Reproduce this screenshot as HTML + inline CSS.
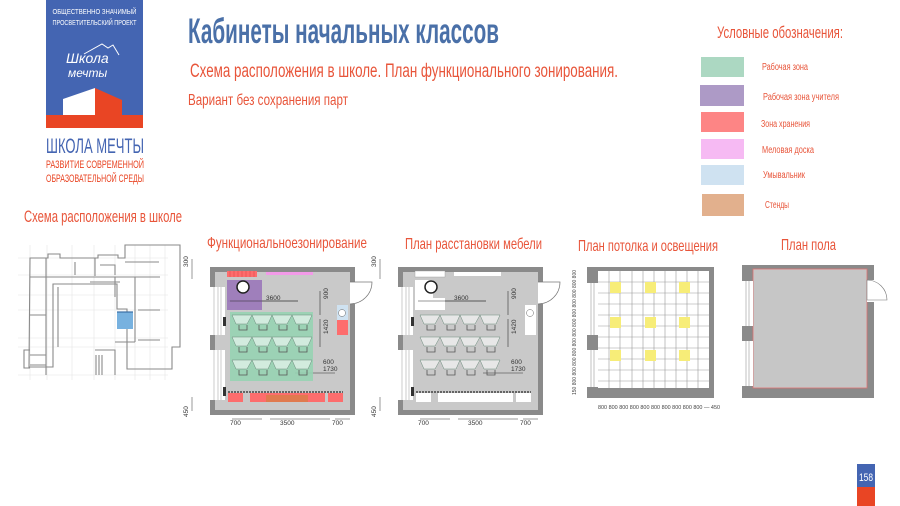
<!DOCTYPE html>
<html><head><meta charset="utf-8"><style>
html,body{margin:0;padding:0;background:#fff}
svg{display:block}
text{font-family:"Liberation Sans Narrow","Liberation Sans",sans-serif}
</style></head><body>
<svg width="900" height="506" viewBox="0 0 900 506" xmlns="http://www.w3.org/2000/svg">
<defs>
<g id="deskrow">
  <path d="M0 0h20l-5 9h-11z M20 0h20l-4 9h-12z M40 0h20l-5 9h-11z M60 0h20l-4 9h-12z" fill="#fff" fill-opacity="0.55" stroke="#6a8a7a" stroke-width="0.5"/>
  <path d="M7 10v5h8v-5 M27 10v5h8v-5 M47 10v5h8v-5 M67 10v5h8v-5" fill="none" stroke="#555" stroke-width="0.8"/>
</g>
<g id="room">
  <rect x="0" y="0" width="145" height="148" fill="#8a8a8a"/>
  <rect x="5" y="5" width="135" height="138" fill="#c9c9c9"/>
  <rect x="0" y="20" width="15" height="48" fill="#fff"/>
  <rect x="0" y="83" width="15" height="50" fill="#fff"/>
  <path d="M4 20v48 M8 20v48 M11 20v48 M4 83v50 M8 83v50 M11 83v50" stroke="#aaa" stroke-width="0.6"/>
  <rect x="140" y="15" width="5" height="22" fill="#fff"/>
  <path d="M140 15 h22 a22 22 0 0 1 -22 22" fill="#fff" stroke="#777" stroke-width="0.7"/>
  <rect x="13" y="50" width="3" height="9" fill="#333"/>
  <rect x="13" y="120" width="3" height="9" fill="#333"/>
  <path d="M18 34h70 M110 24v24 M110 52v28 M130 54v10 M85 106h40 M22 152h30 M60 152h60 M125 152h15" stroke="#333" stroke-width="0.6" fill="none"/>
  <path d="M18 125h115" stroke="#444" stroke-width="1.5" stroke-dasharray="2 1"/>
  <g fill="#333" font-size="6.5">
    <text x="113" y="97">600</text>
    <text x="113" y="104">1730</text>
  </g>
  <text x="0" y="0" font-size="6.5" fill="#333" transform="translate(118 32) rotate(-90)">900</text>
  <text x="0" y="0" font-size="6.5" fill="#333" transform="translate(118 67) rotate(-90)">1420</text>
  <text x="0" y="0" font-size="6.5" fill="#333" transform="translate(-22 0) rotate(-90)">300</text>
  <text x="0" y="0" font-size="6.5" fill="#333" transform="translate(-22 150) rotate(-90)">450</text>
  <g font-size="6.5" fill="#333"><text x="20" y="158">700</text><text x="70" y="158">3500</text><text x="122" y="158">700</text></g>
  <path d="M-18 -8v20 M-18 130v14" stroke="#333" stroke-width="0.5"/>
</g>
</defs>

<!-- Logo -->
<rect x="46" y="0" width="97" height="128" fill="#4465b2"/>
<rect x="46" y="115" width="97" height="13" fill="#e94524"/>
<path d="M63 115v-16l32-11v27z" fill="#fff"/>
<path d="M95 115v-27l27 12v15z" fill="#e94524"/>
<text x="94.5" y="14" font-size="7" fill="#fff" text-anchor="middle" textLength="84" lengthAdjust="spacingAndGlyphs">ОБЩЕСТВЕННО ЗНАЧИМЫЙ</text>
<text x="94.5" y="25" font-size="7" fill="#fff" text-anchor="middle" textLength="84" lengthAdjust="spacingAndGlyphs">ПРОСВЕТИТЕЛЬСКИЙ ПРОЕКТ</text>
<text x="66" y="63" font-size="14" fill="#fff" font-style="italic" font-family="Liberation Serif,serif">Школа</text>
<text x="68" y="77" font-size="12" fill="#fff" font-style="italic" font-family="Liberation Serif,serif">мечты</text>
<path d="M84 54l18-10 6 4 5-3 6 10" fill="none" stroke="#fff" stroke-width="1"/>
<text x="46" y="153" font-size="21" fill="#4465b2" textLength="98" lengthAdjust="spacingAndGlyphs">ШКОЛА МЕЧТЫ</text>
<text x="46" y="168" font-size="11" fill="#e94524" textLength="98" lengthAdjust="spacingAndGlyphs">РАЗВИТИЕ СОВРЕМЕННОЙ</text>
<text x="46" y="182" font-size="11" fill="#e94524" textLength="98" lengthAdjust="spacingAndGlyphs">ОБРАЗОВАТЕЛЬНОЙ СРЕДЫ</text>

<!-- Titles -->
<text x="188" y="43" font-size="35" font-weight="bold" fill="#4a70a8" textLength="311" lengthAdjust="spacingAndGlyphs">Кабинеты начальных классов</text>
<text x="190" y="77" font-size="19" fill="#e8553a" textLength="428" lengthAdjust="spacingAndGlyphs">Схема расположения в школе. План функционального зонирования.</text>
<text x="188" y="105" font-size="16" fill="#e8553a" textLength="160" lengthAdjust="spacingAndGlyphs">Вариант без сохранения парт</text>
<text x="24" y="222" font-size="17" fill="#e8553a" textLength="158" lengthAdjust="spacingAndGlyphs">Схема расположения в школе</text>

<!-- Legend -->
<text x="717" y="38" font-size="17" fill="#e8553a" textLength="126" lengthAdjust="spacingAndGlyphs">Условные обозначения:</text>
<rect x="701" y="57" width="43" height="20" fill="#acd8c2"/>
<rect x="700" y="85" width="44" height="21" fill="#ad9ac6"/>
<rect x="701" y="112" width="43" height="20" fill="#fd8585"/>
<rect x="701" y="139" width="43" height="20" fill="#f6baf3"/>
<rect x="701" y="165" width="43" height="20" fill="#cfe2f1"/>
<rect x="702" y="194" width="42" height="22" fill="#e2b08d"/>
<g font-size="10" fill="#e8553a">
<text x="762" y="70" textLength="46" lengthAdjust="spacingAndGlyphs">Рабочая зона</text>
<text x="763" y="100" textLength="76" lengthAdjust="spacingAndGlyphs">Рабочая зона учителя</text>
<text x="761" y="127" textLength="49" lengthAdjust="spacingAndGlyphs">Зона хранения</text>
<text x="762" y="153" textLength="52" lengthAdjust="spacingAndGlyphs">Меловая доска</text>
<text x="763" y="178" textLength="42" lengthAdjust="spacingAndGlyphs">Умывальник</text>
<text x="765" y="208" textLength="24" lengthAdjust="spacingAndGlyphs">Стенды</text>
</g>

<!-- School plan -->
<g stroke="#e4e4e4" stroke-width="0.6">
<path d="M18 258h150 M18 275h150 M18 295h150 M18 310h150 M18 338h150 M18 347h150 M18 375h150 M30 245v135 M47 245v135 M72 245v135 M94 245v135 M115 245v135 M135 245v135 M150 245v135 M165 245v135"/>
</g>
<g fill="none" stroke="#8a8a8a" stroke-width="1.1">
<path d="M30 258h18v-4h12v4h38v-3h20v3h7v-13h55v102h-8v22h-45v-60h-10v-25h-64v83h-24z"/>
<path d="M46 258v117 M30 277h130 M58 287v60 M75 262v13 M95 258v18 M100 265h15v10 M125 262h34 M90 282h30 M115 277v20 M135 277v65 M138 310h22 M138 340h22 M115 342h20 M30 315h16 M30 355h16 M30 350h-6v18h6 M30 365h16 M95 350h20v25 M96 355v20 M99 355v20 M102 355v20"/>
</g>
<rect x="117" y="312" width="16" height="17" fill="#77b1df"/>
<path d="M117 312h16" stroke="#3b6fa5" stroke-width="1.2"/>

<!-- Section titles -->
<g font-size="16" fill="#e8553a">
<text x="207" y="248" textLength="160" lengthAdjust="spacingAndGlyphs">Функциональноезонирование</text>
<text x="405" y="249" textLength="137" lengthAdjust="spacingAndGlyphs">План расстановки мебели</text>
<text x="578" y="251" textLength="140" lengthAdjust="spacingAndGlyphs">План потолка и освещения</text>
<text x="781" y="250" textLength="55" lengthAdjust="spacingAndGlyphs">План пола</text>
</g>

<!-- Plan 1 -->
<g transform="translate(210 267)">
  <use href="#room"/>
  <rect x="17" y="4" width="30" height="6" fill="#fd6d6d"/>
  <path d="M20 4v6 M24 4v6 M28 4v6 M32 4v6 M36 4v6 M40 4v6 M44 4v6" stroke="#d44" stroke-width="0.5"/>
  <rect x="56" y="5" width="47" height="3" fill="#f29ae8"/>
  <path d="M17 13h35v30h-35z" fill="#9872b8" fill-opacity="0.85"/>
  <path d="M20 34h68" stroke="#333" stroke-width="0.6"/>
  <circle cx="33" cy="20" r="6" fill="#fff" stroke="#222" stroke-width="1.5"/>
  <text x="56" y="33" font-size="6.5" fill="#333">3600</text>
  <rect x="20" y="45" width="83" height="69" fill="#97d3b3" fill-opacity="0.9"/>
  <use href="#deskrow" x="22" y="48"/>
  <use href="#deskrow" x="22" y="70"/>
  <use href="#deskrow" x="22" y="93"/>
  <rect x="127" y="38" width="11" height="15" fill="#cfe2f1"/>
  <circle cx="132" cy="46" r="3.5" fill="#fff" stroke="#666" stroke-width="0.5"/>
  <rect x="127" y="53" width="11" height="15" fill="#fd6d6d"/>
  <rect x="18" y="126" width="15" height="9" fill="#fd6d6d"/>
  <rect x="40" y="126" width="75" height="9" fill="#fd6d6d"/>
  <rect x="56" y="128" width="42" height="7" fill="#e07a4f"/>
  <rect x="118" y="126" width="15" height="9" fill="#fd6d6d"/>
</g>

<!-- Plan 2 -->
<g transform="translate(398 267)">
  <use href="#room"/>
  <rect x="17" y="4" width="30" height="6" fill="#fff" stroke="#999" stroke-width="0.4"/>
  <rect x="56" y="5" width="47" height="4" fill="#fff"/>
  <path d="M17 13h18v18h12v12h-30z" fill="#fff"/>
  <path d="M20 34h68" stroke="#333" stroke-width="0.6"/>
  <circle cx="33" cy="20" r="6" fill="#fff" stroke="#222" stroke-width="1.5"/>
  <text x="56" y="33" font-size="6.5" fill="#333">3600</text>
  <use href="#deskrow" x="22" y="48"/>
  <use href="#deskrow" x="22" y="70"/>
  <use href="#deskrow" x="22" y="93"/>
  <rect x="127" y="38" width="11" height="30" fill="#fff"/>
  <circle cx="132" cy="46" r="3.5" fill="#fff" stroke="#666" stroke-width="0.5"/>
  <rect x="18" y="126" width="15" height="9" fill="#fff"/>
  <rect x="40" y="126" width="75" height="9" fill="#fff"/>
  <rect x="118" y="126" width="15" height="9" fill="#fff"/>
</g>

<!-- Plan 3 ceiling -->
<g>
  <rect x="587" y="267" width="127" height="131" fill="#8a8a8a"/>
  <rect x="598" y="271" width="111" height="117" fill="#fff"/>
  <rect x="587" y="283" width="11" height="52" fill="#fff"/>
  <rect x="587" y="350" width="11" height="37" fill="#fff"/>
  <g stroke="#999" stroke-width="0.6">
    <path d="M591 283v52 M594 283v52 M591 350v37 M594 350v37"/>
    <path d="M609 271v117 M620 271v117 M632 271v117 M643 271v117 M654 271v117 M665 271v117 M676 271v117 M687 271v117 M698 271v117"/>
    <path d="M598 282h111 M598 293h111 M598 304h111 M598 315h111 M598 326h111 M598 337h111 M598 348h111 M598 359h111 M598 370h111 M598 381h111"/>
  </g>
  <g fill="#f7ed78">
    <rect x="610" y="282" width="11" height="11"/><rect x="645" y="282" width="11" height="11"/><rect x="679" y="282" width="11" height="11"/>
    <rect x="610" y="317" width="11" height="11"/><rect x="645" y="317" width="11" height="11"/><rect x="679" y="317" width="11" height="11"/>
    <rect x="610" y="350" width="11" height="11"/><rect x="645" y="350" width="11" height="11"/><rect x="679" y="350" width="11" height="11"/>
  </g>
  <text x="0" y="0" font-size="5" fill="#444" transform="translate(576 395) rotate(-90)" textLength="125" lengthAdjust="spacingAndGlyphs">150 800 800 800 800 800 800 800 800 800 800 800 800</text>
  <text x="598" y="409" font-size="5" fill="#444" textLength="122" lengthAdjust="spacingAndGlyphs">800 800 800 800 800 800 800 800 800 800 — 450</text>
</g>

<!-- Plan 4 floor -->
<g>
  <rect x="742" y="265" width="132" height="133" fill="#8a8a8a"/>
  <rect x="753" y="269" width="114" height="119" fill="#c6c6c6" stroke="#e07070" stroke-width="0.8"/>
  <rect x="742" y="281" width="11" height="45" fill="#fff"/>
  <rect x="742" y="341" width="11" height="45" fill="#fff"/>
  <path d="M746 281v45 M749 281v45 M746 341v45 M749 341v45" stroke="#999" stroke-width="0.6"/>
  <rect x="867" y="280" width="7" height="22" fill="#fff"/>
  <path d="M867 280a20 20 0 0 1 20 20h-20z" fill="#fff" stroke="#777" stroke-width="0.6"/>
</g>

<!-- page number -->
<rect x="857" y="464" width="18" height="23" fill="#4465b2"/>
<rect x="857" y="487" width="18" height="19" fill="#e94524"/>
<text x="866" y="481" font-size="11" fill="#fff" text-anchor="middle" textLength="14" lengthAdjust="spacingAndGlyphs">158</text>
</svg>
</body></html>
